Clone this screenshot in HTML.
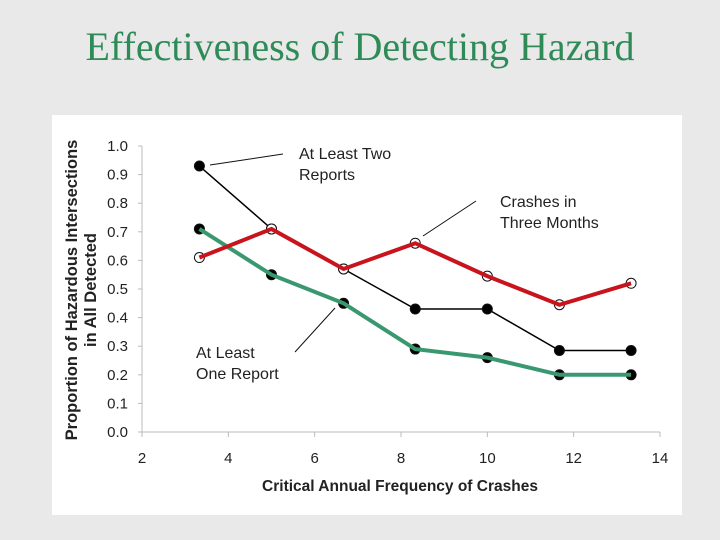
<!DOCTYPE html>
<html><head><meta charset="utf-8"><style>
body{margin:0;width:720px;height:540px;background:#e9e9e9;overflow:hidden;font-family:"Liberation Sans",sans-serif}
#title{position:absolute;left:0;top:23px;width:720px;text-align:center;font-family:"Liberation Serif",serif;font-size:40px;color:#2e8b57}
#panel{position:absolute;left:52px;top:115px;width:630px;height:400px;background:#fff}
svg{position:absolute;left:0;top:0}
</style></head><body>
<div id="title">Effectiveness of Detecting Hazard</div>
<div id="panel"></div>
<svg id="chart" width="720" height="540"></svg>
<script>
const xValues=[3.33,5,6.67,8.33,10,11.67,13.33];
const twoReports=[0.93,0.71,0.57,0.43,0.43,0.285,0.285];
const oneReport=[0.71,0.55,0.45,0.29,0.26,0.20,0.20];
const threeMonths=[0.61,0.71,0.57,0.66,0.545,0.445,0.52];
const xTicks=[2,4,6,8,10,12,14];
const yTicks=[0,0.1,0.2,0.3,0.4,0.5,0.6,0.7,0.8,0.9,1.0];
const NS="http://www.w3.org/2000/svg";
const svg=document.getElementById('chart');
const X=v=>142+(v-2)*(518/12);
const Y=v=>432-v*286;
function mk(t,a,p){const e=document.createElementNS(NS,t);for(const k in a)e.setAttribute(k,a[k]);(p||svg).appendChild(e);return e;}
const ax=mk('g',{stroke:'#bbb','stroke-width':1});


mk('line',{x1:X(2),y1:Y(0),x2:X(14),y2:Y(0)},ax);
mk('line',{x1:X(2),y1:Y(0),x2:X(2),y2:Y(1)},ax);
xTicks.forEach(t=>{mk('line',{x1:X(t),y1:Y(0),x2:X(t),y2:Y(0)+5},ax);
const tx=mk('text',{x:X(t),y:463,'text-anchor':'middle','font-size':15,fill:'#222'});tx.textContent=t;

});
yTicks.forEach(t=>{mk('line',{x1:X(2)-4,y1:Y(t),x2:X(2),y2:Y(t)},ax);
const tx=mk('text',{x:128,y:Y(t)+5,'text-anchor':'end','font-size':15,fill:'#222'});tx.textContent=t.toFixed(1);

});
const xt=mk('text',{x:400,y:491,'text-anchor':'middle','font-size':15.5,'font-weight':'bold',fill:'#222'});xt.textContent='Critical Annual Frequency of Crashes';


const yt=mk('text',{transform:'translate(77,290) rotate(-90)','text-anchor':'middle','font-size':16.5,'font-weight':'bold',fill:'#222'});


const t1=mk('tspan',{x:0,dy:0},yt);t1.textContent='Proportion of Hazardous Intersections';
const t2=mk('tspan',{x:0,dy:19},yt);t2.textContent='in All Detected';
function line(vals,color,w,name){const p=mk('polyline',{points:vals.map((v,i)=>X(xValues[i])+','+Y(v)).join(' '),fill:'none',stroke:color,'stroke-width':w});

}
function dots(vals,fill,name){vals.forEach((v,i)=>{const c=mk('circle',{cx:X(xValues[i]),cy:Y(v),r:5,fill:fill,stroke:'#111','stroke-width':1});

});}
line(twoReports,'#000',1.5,'two-reports-line');
dots(twoReports,'#000','two-reports-point');
dots(oneReport,'#000','one-report-point');
line(oneReport,'#3a9870',4,'one-report-line');
dots(threeMonths,'#fff','three-months-point');
line(threeMonths,'#c8141c',4,'three-months-line');
function lbl(lines,x,y,name){const t=mk('text',{x:x,y:y,'font-size':16,fill:'#222'});


lines.forEach((s,i)=>{const ts=mk('tspan',{x:x,dy:i?21:0},t);ts.textContent=s;});}
lbl(['At Least Two','Reports'],299,159,'label-two-reports');
lbl(['Crashes in','Three Months'],500,207,'label-three-months');
lbl(['At Least','One Report'],196,358,'label-one-report');
const ld=mk('g',{stroke:'#111','stroke-width':1});


mk('line',{x1:210,y1:165,x2:283,y2:154},ld);
mk('line',{x1:423,y1:236,x2:476,y2:201},ld);
mk('line',{x1:295,y1:352,x2:335,y2:308},ld);
</script>
</body></html>
